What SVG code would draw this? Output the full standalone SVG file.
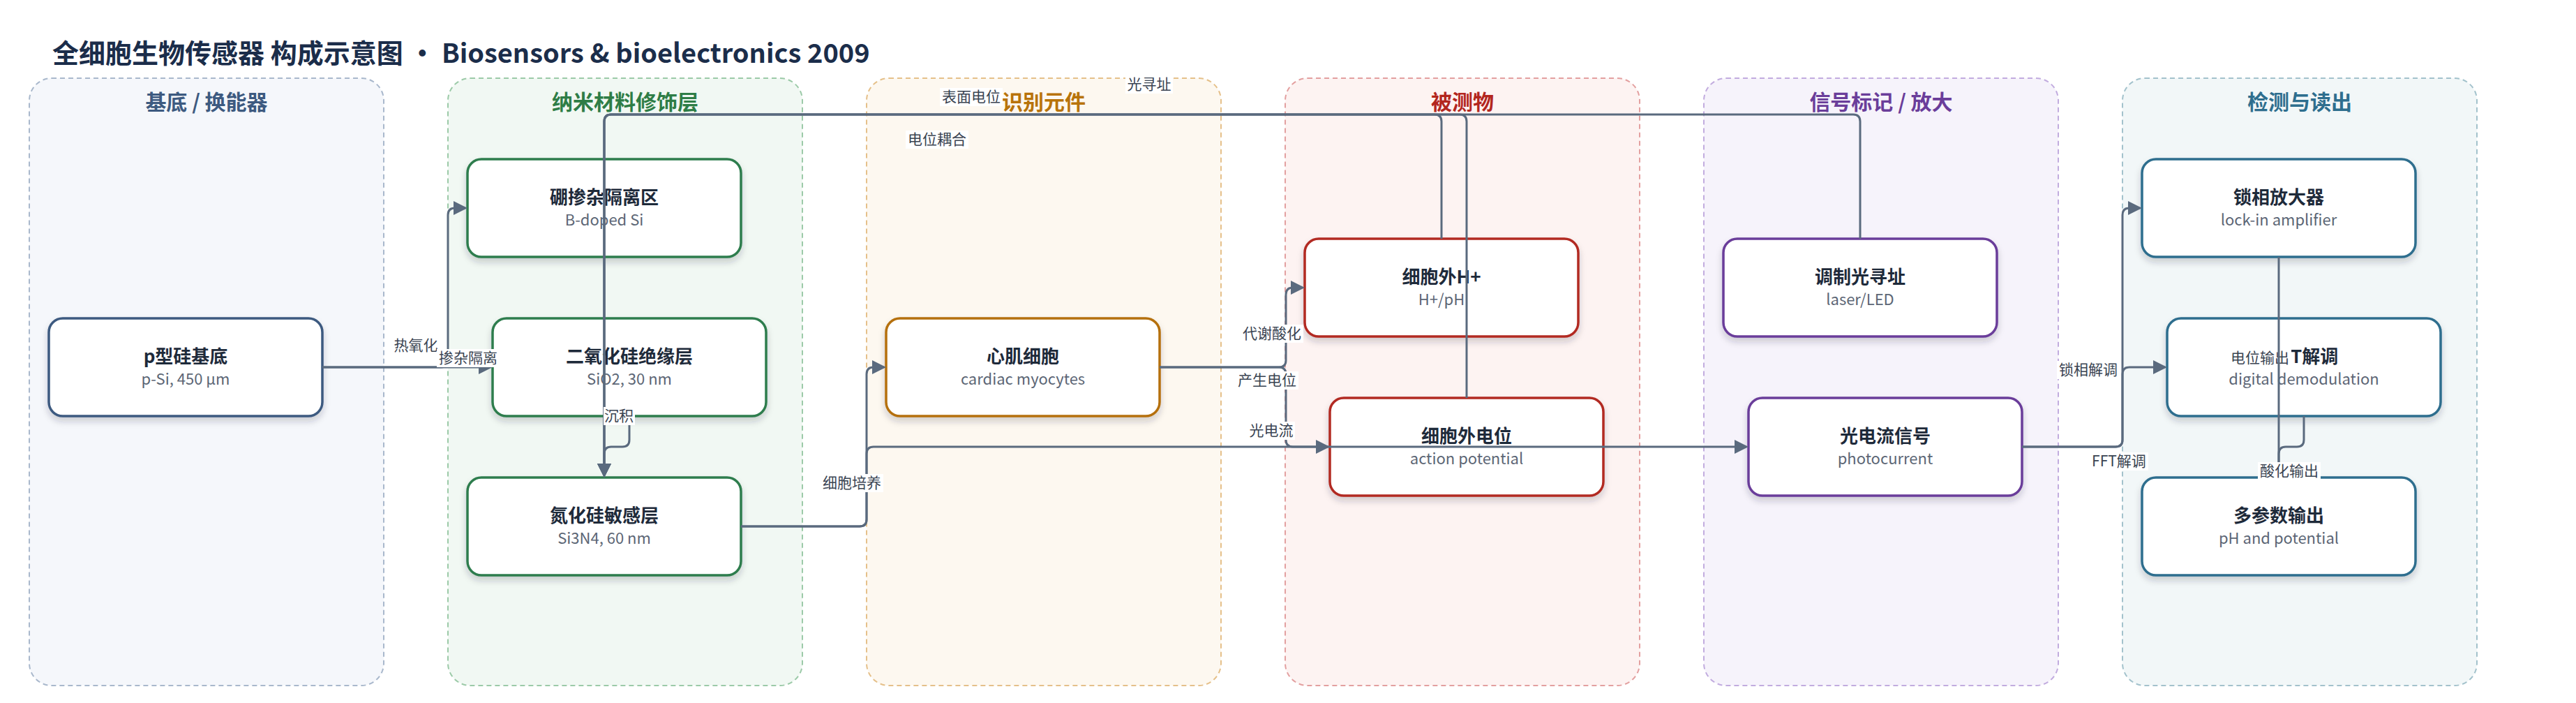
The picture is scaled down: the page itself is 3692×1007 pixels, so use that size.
<svg xmlns="http://www.w3.org/2000/svg" width="3692" height="1007" viewBox="0 0 3692 1007">
<defs>
<style>
text{font-family:"Noto Sans CJK SC","Noto Sans",sans-serif}
.title{font-size:38px;font-weight:700;fill:#1b2d4a}
.panel{stroke-width:2;stroke-dasharray:7 5}
.pt{font-size:30px;font-weight:700;text-anchor:middle}
.nr{fill:#fff;stroke-width:3.5;filter:url(#sh)}
.t{font-size:26px;font-weight:700;fill:#1e2a3a;text-anchor:middle}
.s{font-size:22px;fill:#5c6675;text-anchor:middle}
.e{fill:none;stroke:#5a6a7e;stroke-width:3;marker-end:url(#arr)}
.lb{fill:#fff}
.lt{font-size:21px;fill:#3a4452;text-anchor:middle}
</style>
<marker id="arr" markerUnits="userSpaceOnUse" markerWidth="20" markerHeight="20" viewBox="0 0 20 20" refX="17" refY="10" orient="auto"><path d="M0,0 L20,10 L0,20 z" fill="#5a6a7e"/></marker>
<filter id="sh" x="-10%" y="-10%" width="120%" height="140%"><feDropShadow dx="0" dy="6" stdDeviation="5" flood-color="#1f2937" flood-opacity="0.2"/></filter>
</defs>
<rect width="3692" height="1007" fill="#fff"/>
<text class="title" x="75" y="90">全细胞生物传感器 构成示意图 · Biosensors &amp; bioelectronics 2009</text>

<g id="panels">
<g id="p1"><rect class="panel" x="42" y="112" width="508" height="870" rx="32" fill="#f5f7fb" stroke="#a9b8cc"/><text class="pt" x="296" y="157" fill="#3d5a80">基底 / 换能器</text></g>
<g id="p2"><rect class="panel" x="642" y="112" width="508" height="870" rx="32" fill="#f1f8f3" stroke="#9ccaa8"/><text class="pt" x="896" y="157" fill="#2e7d46">纳米材料修饰层</text></g>
<g id="p3"><rect class="panel" x="1242" y="112" width="508" height="870" rx="32" fill="#fdf8f0" stroke="#e5c08a"/><text class="pt" x="1496" y="157" fill="#b8730a">识别元件</text></g>
<g id="p4"><rect class="panel" x="1842" y="112" width="508" height="870" rx="32" fill="#fdf3f2" stroke="#e3a0a0"/><text class="pt" x="2096" y="157" fill="#b3261e">被测物</text></g>
<g id="p5"><rect class="panel" x="2442" y="112" width="508" height="870" rx="32" fill="#f6f3fb" stroke="#c2acdf"/><text class="pt" x="2696" y="157" fill="#6a3d9a">信号标记 / 放大</text></g>
<g id="p6"><rect class="panel" x="3042" y="112" width="508" height="870" rx="32" fill="#f2f7f8" stroke="#a3c2cc"/><text class="pt" x="3296" y="157" fill="#2e6e8e">检测与读出</text></g>
</g>

<g id="nodes">
<g id="nA"><rect class="nr" x="70" y="456" width="392" height="140" rx="20" stroke="#3d5a80"/><text class="t" x="266" y="520">p型硅基底</text><text class="s" x="266" y="551">p-Si, 450 µm</text></g>
<g id="nB"><rect class="nr" x="670" y="228" width="392" height="140" rx="20" stroke="#2e7d4e"/><text class="t" x="866" y="292">硼掺杂隔离区</text><text class="s" x="866" y="323">B-doped Si</text></g>
<g id="nC"><rect class="nr" x="706" y="456" width="392" height="140" rx="20" stroke="#2e7d4e"/><text class="t" x="902" y="520">二氧化硅绝缘层</text><text class="s" x="902" y="551">SiO2, 30 nm</text></g>
<g id="nD"><rect class="nr" x="670" y="684" width="392" height="140" rx="20" stroke="#2e7d4e"/><text class="t" x="866" y="748">氮化硅敏感层</text><text class="s" x="866" y="779">Si3N4, 60 nm</text></g>
<g id="nE"><rect class="nr" x="1270" y="456" width="392" height="140" rx="20" stroke="#b5700c"/><text class="t" x="1466" y="520">心肌细胞</text><text class="s" x="1466" y="551">cardiac myocytes</text></g>
<g id="nF"><rect class="nr" x="1870" y="342" width="392" height="140" rx="20" stroke="#b22a22"/><text class="t" x="2066" y="406">细胞外H+</text><text class="s" x="2066" y="437">H+/pH</text></g>
<g id="nG"><rect class="nr" x="1906" y="570" width="392" height="140" rx="20" stroke="#b22a22"/><text class="t" x="2102" y="634">细胞外电位</text><text class="s" x="2102" y="665">action potential</text></g>
<g id="nH"><rect class="nr" x="2470" y="342" width="392" height="140" rx="20" stroke="#6a3d9a"/><text class="t" x="2666" y="406">调制光寻址</text><text class="s" x="2666" y="437">laser/LED</text></g>
<g id="nI"><rect class="nr" x="2506" y="570" width="392" height="140" rx="20" stroke="#6a3d9a"/><text class="t" x="2702" y="634">光电流信号</text><text class="s" x="2702" y="665">photocurrent</text></g>
<g id="nJ"><rect class="nr" x="3070" y="228" width="392" height="140" rx="20" stroke="#2e6e8e"/><text class="t" x="3266" y="292">锁相放大器</text><text class="s" x="3266" y="323">lock-in amplifier</text></g>
<g id="nK"><rect class="nr" x="3106" y="456" width="392" height="140" rx="20" stroke="#2e6e8e"/><text class="t" x="3302" y="520">FFT解调</text><text class="s" x="3302" y="551">digital demodulation</text></g>
<g id="nL"><rect class="nr" x="3070" y="684" width="392" height="140" rx="20" stroke="#2e6e8e"/><text class="t" x="3266" y="748">多参数输出</text><text class="s" x="3266" y="779">pH and potential</text></g>
</g>

<g id="connectors">
<path class="e" d="M462,526 H703"/>
<path class="e" d="M462,526 H632 Q642,526 642,516 V308 Q642,298 652,298 H667"/>
<path class="e" d="M902,596 V630 Q902,640 892,640 H876 Q866,640 866,650 V681"/>
<path class="e" d="M2666,342 V174 Q2666,164 2656,164 H876 Q866,164 866,174 V681"/>
<path class="e" d="M2066,342 V174 Q2066,164 2056,164 H876 Q866,164 866,174 V681"/>
<path class="e" d="M2102,570 V174 Q2102,164 2092,164 H876 Q866,164 866,174 V681"/>
<path class="e" d="M1062,754 H1232 Q1242,754 1242,744 V536 Q1242,526 1252,526 H1267"/>
<path class="e" d="M1062,754 H1232 Q1242,754 1242,744 V650 Q1242,640 1252,640 H2503"/>
<path class="e" d="M1662,526 H1833 Q1843,526 1843,516 V422 Q1843,412 1853,412 H1867"/>
<path class="e" d="M1662,526 H1833 Q1843,526 1843,536 V630 Q1843,640 1853,640 H1903"/>
<path class="e" d="M2898,640 H3032 Q3042,640 3042,630 V308 Q3042,298 3052,298 H3067"/>
<path class="e" d="M2898,640 H3032 Q3042,640 3042,630 V536 Q3042,526 3052,526 H3103"/>
<g id="lab">
<rect class="lb" x="563" y="482" width="66" height="26"/><text class="lt" x="596" y="502">热氧化</text>
<rect class="lb" x="626" y="500" width="90" height="26"/><text class="lt" x="671" y="520">掺杂隔离</text>
<rect class="lb" x="865" y="583" width="45" height="26"/><text class="lt" x="887" y="603">沉积</text>
<rect class="lb" x="1176" y="679" width="90" height="26"/><text class="lt" x="1221" y="699">细胞培养</text>
<rect class="lb" x="1347" y="126" width="90" height="26"/><text class="lt" x="1392" y="146">表面电位</text>
<rect class="lb" x="1298" y="187" width="90" height="26"/><text class="lt" x="1343" y="207">电位耦合</text>
<rect class="lb" x="1613" y="108" width="68" height="26"/><text class="lt" x="1647" y="128">光寻址</text>
<rect class="lb" x="1778" y="465" width="90" height="26"/><text class="lt" x="1823" y="485">代谢酸化</text>
<rect class="lb" x="1771" y="532" width="90" height="26"/><text class="lt" x="1816" y="552">产生电位</text>
<rect class="lb" x="1788" y="604" width="68" height="26"/><text class="lt" x="1822" y="624">光电流</text>
<rect class="lb" x="2948" y="517" width="90" height="26"/><text class="lt" x="2993" y="537">锁相解调</text>
<rect class="lb" x="2995" y="648" width="84" height="26"/><text class="lt" x="3037" y="668">FFT解调</text>
<rect class="lb" x="3194" y="500" width="90" height="26"/><text class="lt" x="3239" y="520">电位输出</text>
</g>
<path class="e" d="M3266,368 V681"/>
<path class="e" d="M3302,596 V630 Q3302,640 3292,640 H3276 Q3266,640 3266,650 V681"/>
<rect class="lb" x="3236" y="662" width="90" height="26"/><text class="lt" x="3281" y="682">酸化输出</text>
</g>
</svg>
